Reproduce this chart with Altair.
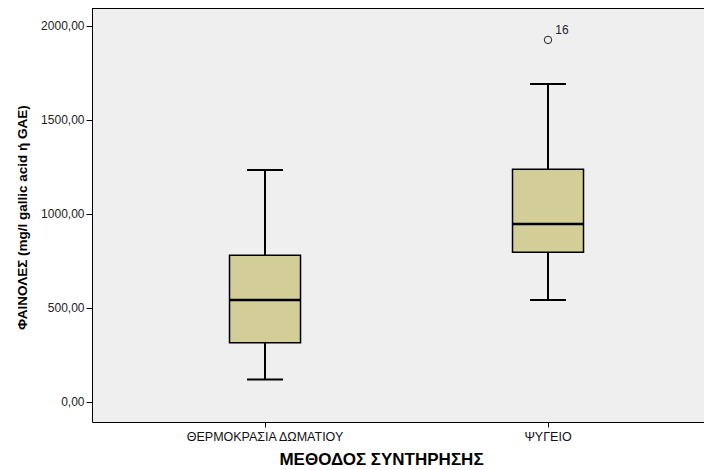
import altair as alt
import pandas as pd

groups = ["ΘΕΡΜΟΚΡΑΣΙΑ ΔΩΜΑΤΙΟΥ", "ΨΥΓΕΙΟ"]
lower = [119, 543]
q1 = [315, 796]
median = [543, 947]
q3 = [780, 1238]
upper = [1234, 1691]

outlier_group = ["ΨΥΓΕΙΟ"]
outlier_value = [1926]
outlier_label = ["16"]

y_ticks = [0, 500, 1000, 1500, 2000]

box_df = pd.DataFrame({"g": groups, "lo": lower, "q1": q1, "med": median, "q3": q3, "hi": upper})
out_df = pd.DataFrame({"g": outlier_group, "v": outlier_value, "lab": outlier_label})

FONT = "Liberation Sans"
W, H = 612, 414

xscale = alt.Scale(domain=groups, paddingInner=0, paddingOuter=0.0813, align=0.685, round=False)
yscale = alt.Scale(domain=[-106.4, 2095.7], nice=False, zero=False)

xaxis = alt.Axis(
    title="ΜΕΘΟΔΟΣ ΣΥΝΤΗΡΗΣΗΣ", labelAngle=0, labelFont=FONT, labelFontSize=12.5,
    labelColor="#111", tickSize=5, tickColor="black", domainColor="black",
    labelPadding=3, titleFont=FONT, titleFontSize=17, titleFontWeight="bold",
    titleColor="black", titleX=289, titleY=42, titleAlign="center",
    titleBaseline="alphabetic",
)
yaxis = alt.Axis(
    title="ΦΑΙΝΟΛΕΣ (mg/l gallic acid ή GAE)", values=y_ticks,
    labelExpr="replace(format(datum.value, '.2f'), '.', ',')",
    labelFont=FONT, labelFontSize=12, labelColor="#222", tickSize=6,
    tickColor="black", domainColor="black", labelPadding=2, grid=False,
    titleFont=FONT, titleFontSize=13.5, titleFontWeight="bold", titleColor="black",
    titleX=-70, titleY=209, titleAlign="center", titleBaseline="middle", titleAngle=-90,
)

base = alt.Chart(box_df)
X = alt.X("g:N", scale=xscale, axis=xaxis, sort=groups)

whisk_low = base.mark_rule(color="black", strokeWidth=2).encode(
    x=X, y=alt.Y("lo:Q", scale=yscale, axis=yaxis), y2="q1:Q")
whisk_high = base.mark_rule(color="black", strokeWidth=2).encode(
    x=X, y=alt.Y("q3:Q", scale=yscale), y2="hi:Q")
box = base.mark_bar(size=71, fill="#D3CE97", stroke="black", strokeWidth=1.5).encode(
    x=X, y=alt.Y("q1:Q", scale=yscale), y2="q3:Q")
med = base.mark_tick(size=71, thickness=2.5, color="black", opacity=1).encode(
    x=X, y=alt.Y("med:Q", scale=yscale))
cap_lo = base.mark_tick(size=36, thickness=2, color="black", opacity=1).encode(
    x=X, y=alt.Y("lo:Q", scale=yscale))
cap_hi = base.mark_tick(size=36, thickness=2, color="black", opacity=1).encode(
    x=X, y=alt.Y("hi:Q", scale=yscale))

outl = alt.Chart(out_df).mark_point(shape="circle", filled=False, size=55, color="#222", strokeWidth=1, opacity=1).encode(
    x=alt.X("g:N", scale=xscale, sort=groups), y=alt.Y("v:Q", scale=yscale))
outl_txt = alt.Chart(out_df).mark_text(dx=14, dy=-10, font=FONT, fontSize=12, color="#222").encode(
    x=alt.X("g:N", scale=xscale, sort=groups), y=alt.Y("v:Q", scale=yscale), text="lab:N")

frame_top = alt.Chart(pd.DataFrame({"a": [0]})).mark_rule(color="black", strokeWidth=1).encode(
    x=alt.value(0), x2=alt.value(W), y=alt.value(0.5))

chart = alt.layer(whisk_low, whisk_high, box, med, cap_lo, cap_hi, outl, outl_txt, frame_top).properties(
    width=W, height=H,
    autosize=alt.AutoSizeParams(type="none"),
    padding={"left": 84, "top": 0, "right": 0, "bottom": 46},
    background="white",
).configure_view(fill="#EFEFEF", strokeWidth=0)

chart.save("out.html", embed_options={"renderer": "svg", "actions": False})
